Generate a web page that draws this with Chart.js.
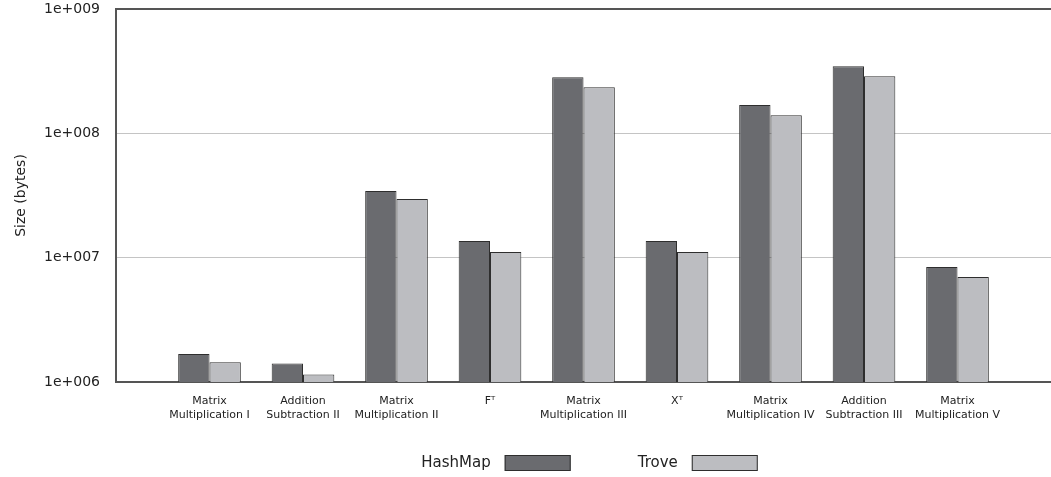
<!DOCTYPE html>
<html>
<head>
<meta charset="utf-8">
<script src="https://cdn.jsdelivr.net/npm/chart.js@4/dist/chart.umd.min.js"></script>
<style>
  html, body { margin: 0; padding: 0; background: #fff; }
  #wrap { width: 1051px; height: 477px; position: relative; }
</style>
</head>
<body>
<div id="wrap"><canvas id="chart"></canvas></div>
<script>
// categories (multi-line labels)
const categories = [
    ['Matrix', 'Multiplication I'],
    ['Addition', 'Subtraction II'],
    ['Matrix', 'Multiplication II'],
    'F\u1D40',
    ['Matrix', 'Multiplication III'],
    'X\u1D40',
    ['Matrix', 'Multiplication IV'],
    ['Addition', 'Subtraction III'],
    ['Matrix', 'Multiplication V']
];
const hashMapSizes = [1.68e6, 1.41e6, 3.43e7, 1.36e7, 2.83e8, 1.36e7, 1.69e8, 3.47e8, 8.4e6];
const troveSizes   = [1.44e6, 1.15e6, 2.96e7, 1.11e7, 2.35e8, 1.11e7, 1.40e8, 2.88e8, 6.98e6];
const yTicks = [1e6, 1e7, 1e8, 1e9];

const FONT = 'DejaVu Sans';
const TEXT = '#222';
const AXIS = '#555';

// empty half-slot on each side of the category axis
const labels = [''].concat(categories, ['']);
const pad = arr => [null].concat(arr, [null]);

// top frame line + legend with the box after the text
const framePlugin = {
    id: 'frame',
    afterDraw(chart) {
        const ctx = chart.ctx;
        const area = chart.chartArea;
        ctx.save();
        ctx.strokeStyle = AXIS;
        ctx.lineWidth = 2;
        ctx.beginPath();
        ctx.moveTo(area.left, area.top);
        ctx.lineTo(area.right, area.top);
        ctx.stroke();

        ctx.font = '15px ' + FONT;
        ctx.textBaseline = 'middle';
        const boxW = 66, boxH = 16, gap = 14, itemGap = 67;
        const items = chart.data.datasets.map(ds => ({
            text: ds.label, color: ds.backgroundColor, w: ctx.measureText(ds.label).width
        }));
        let total = 0;
        items.forEach((it, i) => { total += it.w + gap + boxW + (i ? itemGap : 0); });
        let x = (area.left + area.right) / 2 + 6 - total / 2;
        const y = 463;
        items.forEach(it => {
            ctx.fillStyle = TEXT;
            ctx.textAlign = 'left';
            ctx.fillText(it.text, x, y);
            x += it.w + gap;
            ctx.fillStyle = it.color;
            ctx.fillRect(x, y - boxH / 2, boxW, boxH);
            ctx.strokeStyle = '#2e2e2e';
            ctx.lineWidth = 1;
            ctx.strokeRect(x + 0.5, y - boxH / 2 + 0.5, boxW - 1, boxH - 1);
            x += boxW + itemGap;
        });
        ctx.restore();
    }
};

const ctx = document.getElementById('chart').getContext('2d');
new Chart(ctx, {
    type: 'bar',
    data: {
        labels: labels,
        datasets: [{
            label: 'HashMap',
            data: pad(hashMapSizes),
            backgroundColor: '#6a6b6f',
            borderColor: '#2e2e2e',
            borderWidth: 1
        }, {
            label: 'Trove',
            data: pad(troveSizes),
            backgroundColor: '#bcbdc1',
            borderColor: '#2e2e2e',
            borderWidth: 1
        }]
    },
    options: {
        responsive: true,
        maintainAspectRatio: false,
        animation: false,
        datasets: {
            bar: { categoryPercentage: 0.67, barPercentage: 1.0 }
        },
        layout: { padding: { top: 9, right: -5, left: 0, bottom: 0 } },
        plugins: {
            legend: { display: false },
            tooltip: { enabled: false }
        },
        scales: {
            x: {
                offset: false,
                grid: { display: false, drawTicks: false },
                border: { display: true, color: AXIS, width: 2 },
                ticks: {
                    color: TEXT,
                    font: { family: FONT, size: 11 },
                    autoSkip: false,
                    maxRotation: 0,
                    padding: 13
                },
                afterFit(scale) {
                    scale.height = 95;
                    scale.paddingLeft = 0;
                    scale.paddingRight = -5;
                }
            },
            y: {
                type: 'logarithmic',
                min: 1e6,
                max: 1e9,
                afterBuildTicks(scale) {
                    scale.ticks = yTicks.map(v => ({ value: v }));
                },
                grid: {
                    drawTicks: false,
                    color: ctx => (ctx.tick && (ctx.tick.value === 1e7 || ctx.tick.value === 1e8)) ? '#c4c4c4' : 'rgba(0,0,0,0)',
                    lineWidth: 1
                },
                border: { display: true, color: AXIS, width: 2 },
                ticks: {
                    color: TEXT,
                    font: { family: FONT, size: 14 },
                    padding: 16,
                    callback: v => '1e+' + String(Math.round(Math.log10(v))).padStart(3, '0')
                },
                title: {
                    display: true,
                    text: 'Size (bytes)',
                    color: TEXT,
                    font: { family: FONT, size: 14 },
                    padding: { top: 13, bottom: 0 }
                },
                afterFit(scale) {
                    scale.width = 116;
                    scale.paddingTop = 0;
                    scale.paddingBottom = 0;
                }
            }
        }
    },
    plugins: [framePlugin]
});
</script>
</body>
</html>
